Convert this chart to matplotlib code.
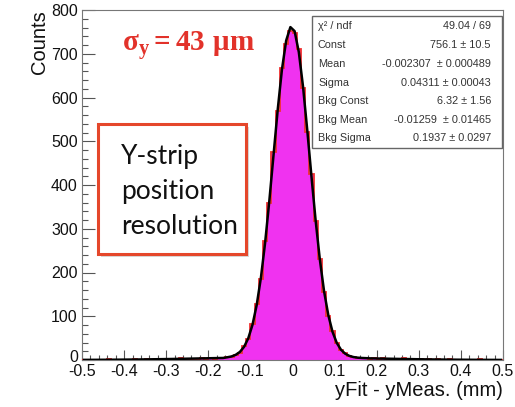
import numpy as np
import matplotlib
matplotlib.use("Agg")
import matplotlib.pyplot as plt
import matplotlib.transforms as mtransforms
from matplotlib.patches import Rectangle
from matplotlib.ticker import MultipleLocator

# ---------------- data ----------------
x_range = (-0.5, 0.5)
n_bins = 100
counts = [
    0, 1, 0, 0, 1, 0, 2, 0, 1, 1,
    1, 0, 2, 1, 1, 3, 1, 2, 2, 1,
    2, 3, 2, 4, 1, 3, 3, 2, 5, 3,
    4, 3, 5, 4, 6, 8, 12, 17, 31, 48,
    82, 128, 185, 271, 360, 475, 570, 668, 722, 752,
    748, 710, 622, 522, 425, 318, 232, 155, 100, 66,
    38, 23, 16, 10, 7, 5, 4, 5, 3, 4,
    3, 4, 2, 3, 3, 2, 4, 2, 1, 2,
    2, 1, 3, 1, 2, 1, 0, 2, 1, 1,
    1, 0, 1, 0, 2, 0, 1, 0, 1, 0,
]
fit_values = [
    0.28, 0.32, 0.37, 0.41, 0.47, 0.52, 0.59, 0.66, 0.73, 0.81,
    0.90, 1.00, 1.10, 1.21, 1.32, 1.45, 1.58, 1.72, 1.87, 2.02,
    2.18, 2.35, 2.52, 2.70, 2.89, 3.08, 3.27, 3.46, 3.66, 3.86,
    4.06, 4.25, 4.45, 4.64, 6.2, 8.1, 11.8, 18.4, 30.2, 49.8,
    80.6, 125.9, 188.3, 268.5, 364.2, 469.1, 573.3, 664.5, 730.3, 760.9,
    751.7, 703.9, 624.9, 526.0, 420.1, 318.4, 229.2, 157.1, 102.8, 64.6,
    39.4, 23.7, 14.5, 9.4, 6.7, 5.3, 4.6, 4.2, 3.76, 3.56,
    3.36, 3.17, 2.98, 2.79, 2.61, 2.43, 2.26, 2.10, 1.94, 1.79,
    1.65, 1.51, 1.38, 1.26, 1.15, 1.04, 0.95, 0.85, 0.77, 0.69,
    0.62, 0.55, 0.49, 0.44, 0.39, 0.34, 0.30, 0.27, 0.23, 0.20,
]
x_tick_labels = ["-0.5", "-0.4", "-0.3", "-0.2", "-0.1", "0", "0.1", "0.2",
                 "0.3", "0.4", "0.5"]
y_tick_labels = ["0", "100", "200", "300", "400", "500", "600", "700", "800"]
stat_labels = ["\u03c7\u00b2 / ndf", "Const", "Mean", "Sigma",
               "Bkg Const", "Bkg Mean", "Bkg Sigma"]
stat_values = ["49.04 / 69", "756.1 \u00b1 10.5", "-0.002307  \u00b1 0.000489",
               "0.04311 \u00b1 0.00043", "6.32 \u00b1 1.56",
               "-0.01259  \u00b1 0.01465", "0.1937 \u00b1 0.0297"]
x_label = "yFit - yMeas. (mm)"
y_label = "Counts"
sigma_text = r"$\mathbf{\sigma_y = 43\ \mu m}$"
box_text = "Y-strip\nposition\nresolution"

# ---------------- figure ----------------
W, H = 515, 407
fig = plt.figure(figsize=(W / 100, H / 100), dpi=100)
plt.rcParams["font.family"] = ["Liberation Sans", "DejaVu Sans"]
plt.rcParams["mathtext.fontset"] = "custom"
plt.rcParams["mathtext.bf"] = "Liberation Serif:bold"
plt.rcParams["mathtext.rm"] = "Liberation Serif:bold"
plt.rcParams["mathtext.it"] = "Liberation Serif:bold"


def fx(px):
    return px / W


def fy(py):
    return 1 - py / H


ax_l, ax_r, ax_t, ax_b = 82, 503, 10, 360
ax = fig.add_axes([fx(ax_l), fy(ax_b), fx(ax_r) - fx(ax_l), fy(ax_t) - fy(ax_b)])

edges = np.linspace(x_range[0], x_range[1], n_bins + 1)
centers = 0.5 * (edges[:-1] + edges[1:])
ax.stairs(counts, edges, fill=True, color="#f032f0", zorder=2)
ax.stairs(counts, edges, fill=False, color="#f03030", lw=1.3, zorder=3)
ax.plot(centers, fit_values, color="black", lw=1.8, zorder=4)

ax.set_xlim(*x_range)
ax.set_ylim(0, 800)
ax.xaxis.set_minor_locator(MultipleLocator(0.02))
ax.yaxis.set_minor_locator(MultipleLocator(20))
ax.tick_params(axis="both", which="both", direction="in", top=False, right=False,
               color="#555555", width=0.8, labelsize=11.5, labelcolor="#111111")
ax.tick_params(axis="x", which="major", length=7.5, pad=3)
ax.tick_params(axis="x", which="minor", length=3.8)
ax.tick_params(axis="y", which="major", length=9, pad=3)
ax.tick_params(axis="y", which="minor", length=4.5)
ax.set_xticks([float(t) for t in x_tick_labels])
ax.set_xticklabels(x_tick_labels)
ax.set_yticks([float(t) for t in y_tick_labels])
ax.set_yticklabels(y_tick_labels)
# ROOT draws the "0" slightly raised above the axis corner
zero_lab = ax.get_yticklabels()[0]
zero_lab.set_transform(zero_lab.get_transform() +
                       mtransforms.ScaledTranslation(0, 0.035, fig.dpi_scale_trans))
for s in ax.spines.values():
    s.set_color("#777777")
    s.set_linewidth(0.8)

fig.text(fx(503), fy(391), x_label, ha="right", va="center", fontsize=14.5,
         color="#111111")
fig.text(fx(40), fy(10), y_label, ha="center", va="top", rotation=90,
         fontsize=14.5, color="#111111")

# sigma annotation
fig.text(fx(122), fy(45), sigma_text, ha="left", va="center", fontsize=21,
         color="#e2322a")

# Y-strip box with shadow
bx0, by0, bx1, by1 = 98, 124, 246, 254
fig.add_artist(Rectangle((fx(bx0 + 3), fy(by1 + 3)), fx(bx1) - fx(bx0), fy(by0) - fy(by1),
                         transform=fig.transFigure, facecolor="#d8d8d8",
                         edgecolor="none", zorder=5))
fig.add_artist(Rectangle((fx(bx0), fy(by1)), fx(bx1) - fx(bx0), fy(by0) - fy(by1),
                         transform=fig.transFigure, facecolor="white",
                         edgecolor="#e5472b", lw=2.2, zorder=6))
fig.text(fx(121), fy(191), box_text, ha="left", va="center", fontsize=19,
         family=["Lato", "DejaVu Sans"], linespacing=1.5, color="#111111", zorder=7)

# stats box
sx0, sy0, sx1, sy1 = 312, 16, 502, 148
fig.add_artist(Rectangle((fx(sx0), fy(sy1)), fx(sx1) - fx(sx0), fy(sy0) - fy(sy1),
                         transform=fig.transFigure, facecolor="white",
                         edgecolor="#666666", lw=1.0, zorder=5))
row_y = [26, 45, 64, 83, 101, 120, 138]
for lab, val, ry in zip(stat_labels, stat_values, row_y):
    fig.text(fx(318), fy(ry), lab, ha="left", va="center", fontsize=7.8,
             color="#333333", zorder=6)
    fig.text(fx(491), fy(ry), val, ha="right", va="center", fontsize=7.8,
             color="#333333", zorder=6)

fig.savefig("out.png", dpi=100)
